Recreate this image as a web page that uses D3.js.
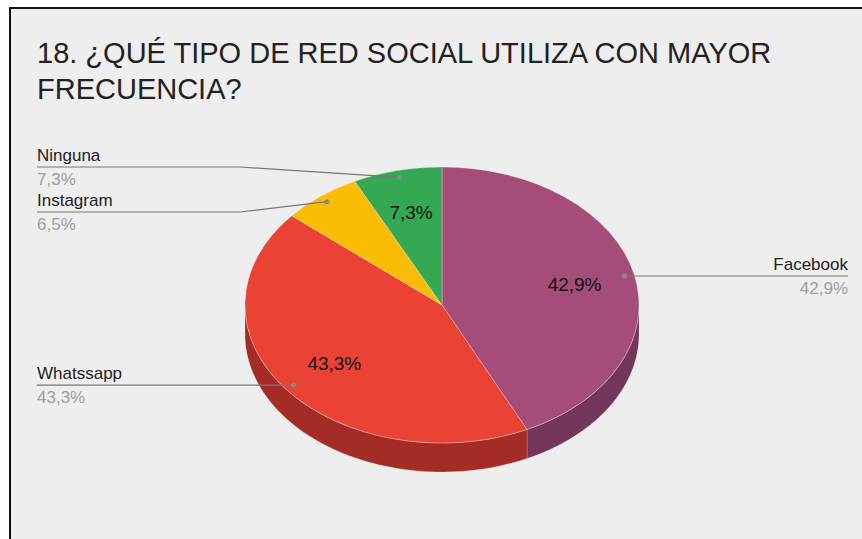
<!DOCTYPE html>
<html>
<head>
<meta charset="utf-8">
<script src="https://cdn.jsdelivr.net/npm/d3@7"></script>
<style>
  body { margin: 0; background: #fff; }
  text { font-family: Arial, "Liberation Sans", sans-serif; }
</style>
</head>
<body>
<script>
// Chart data
var categories = ["Facebook", "Whatssapp", "Instagram", "Ninguna"];
var values = [42.9, 43.3, 6.5, 7.3];
var labels = ["42,9%", "43,3%", "6,5%", "7,3%"];
var colors = ["#a54c78", "#ea4335", "#fbbc04", "#34a853"];
var sideColors = ["#74365a", "#a52c24", "#b08403", "#247639"];
var titleLines = ["18. ¿QUÉ TIPO DE RED SOCIAL UTILIZA CON MAYOR", "FRECUENCIA?"];

var W = 862, H = 539;
var cx = 442, cy = 305, rx = 197, ry = 138, depth = 29;

var svg = d3.select("body").append("svg")
    .attr("width", W)
    .attr("height", H);

// panel + border (left and top only are visible)
svg.append("rect")
    .attr("x", 10).attr("y", 8)
    .attr("width", W - 10).attr("height", H - 8)
    .attr("fill", "#eeeeee");
svg.append("path")
    .attr("d", `M10,${H} L10,8 L${W},8`)
    .attr("fill", "none")
    .attr("stroke", "#111")
    .attr("stroke-width", 2);

// Title
svg.append("g").selectAll("text")
    .data(titleLines)
    .enter().append("text")
    .attr("x", 37)
    .attr("y", (d, i) => 63 + i * 36)
    .attr("font-size", 29)
    .attr("fill", "#222")
    .text(d => d);

var pie = d3.pie().sort(null).value(d => d.value);
var slices = pie(categories.map((c, i) => ({ name: c, value: values[i], label: labels[i], i: i })));

// point on the flattened ellipse
function pt(a, f, dy) {
    return [cx + rx * f * Math.sin(a), cy - ry * f * Math.cos(a) + (dy || 0)];
}

var line = d3.line();

// side walls (only the front half, angles pi/2 .. 3pi/2)
var sides = svg.append("g");
slices.forEach(function(s) {
    var s0 = Math.max(s.startAngle, Math.PI / 2),
        s1 = Math.min(s.endAngle, 3 * Math.PI / 2);
    if (s1 <= s0) return;
    var n = 60, top = [], bot = [];
    for (var k = 0; k <= n; k++) {
        var a = s0 + (s1 - s0) * k / n;
        top.push(pt(a, 1));
        bot.push(pt(a, 1, depth));
    }
    sides.append("path")
        .attr("d", line(top.concat(bot.reverse())) + "Z")
        .attr("fill", sideColors[s.data.i])
        .attr("stroke", "rgba(255,255,255,0.25)")
        .attr("stroke-width", 0.8);
});

// top faces
var arc = d3.arc().innerRadius(0).outerRadius(rx);
svg.append("g")
    .attr("transform", `translate(${cx},${cy}) scale(1,${ry / rx})`)
    .selectAll("path")
    .data(slices)
    .enter().append("path")
    .attr("d", arc)
    .attr("fill", d => colors[d.data.i])
    .attr("stroke", "rgba(255,255,255,0.35)")
    .attr("stroke-width", 0.8)
    .attr("vector-effect", "non-scaling-stroke");

// inner percentage labels
svg.append("g").selectAll("text")
    .data(slices.filter(d => d.data.value >= 7))
    .enter().append("text")
    .attr("x", d => pt((d.startAngle + d.endAngle) / 2, 0.69)[0])
    .attr("y", d => pt((d.startAngle + d.endAngle) / 2, 0.69)[1])
    .attr("dy", "0.35em")
    .attr("text-anchor", "middle")
    .attr("font-size", 19)
    .attr("fill", "#111")
    .text(d => d.data.label);

// outer labels with leader lines
var items = slices.map(function(d) {
    var m = (d.startAngle + d.endAngle) / 2;
    var p = pt(m, 0.95);
    return { d: d, dot: p, left: Math.sin(m) < 0, y: p[1] };
});

// spread labels on each side so they keep a minimum gap
function spread(list, gap) {
    list.sort((a, b) => a.y - b.y);
    for (var iter = 0; iter < 50; iter++) {
        var moved = false;
        for (var k = 1; k < list.length; k++) {
            var diff = list[k].y - list[k - 1].y;
            if (diff < gap) {
                var push = (gap - diff) / 2;
                list[k].y += push;
                list[k - 1].y -= push;
                moved = true;
            }
        }
        if (!moved) break;
    }
}
spread(items.filter(d => d.left), 45);
spread(items.filter(d => !d.left), 45);

var leftX = 37, rightX = 848, elbowX = 240;
var lab = svg.append("g");
items.forEach(function(it) {
    var pts;
    if (it.left) {
        pts = [[leftX, it.y], [elbowX, it.y], it.dot];
    } else {
        pts = [it.dot, [rightX, it.y]];
    }
    lab.append("path")
        .attr("d", line(pts))
        .attr("fill", "none")
        .attr("stroke", "#777")
        .attr("stroke-width", 1.2);
    lab.append("circle")
        .attr("cx", it.dot[0]).attr("cy", it.dot[1])
        .attr("r", 2.5)
        .attr("fill", "#8a8a8a");
    var x = it.left ? leftX : rightX,
        anchor = it.left ? "start" : "end";
    lab.append("text")
        .attr("x", x).attr("y", it.y - 6)
        .attr("text-anchor", anchor)
        .attr("font-size", 17)
        .attr("fill", "#222")
        .text(it.d.data.name);
    lab.append("text")
        .attr("x", x).attr("y", it.y + 18)
        .attr("text-anchor", anchor)
        .attr("font-size", 17)
        .attr("fill", "#9e9e9e")
        .text(it.d.data.label);
});
</script>
</body>
</html>
